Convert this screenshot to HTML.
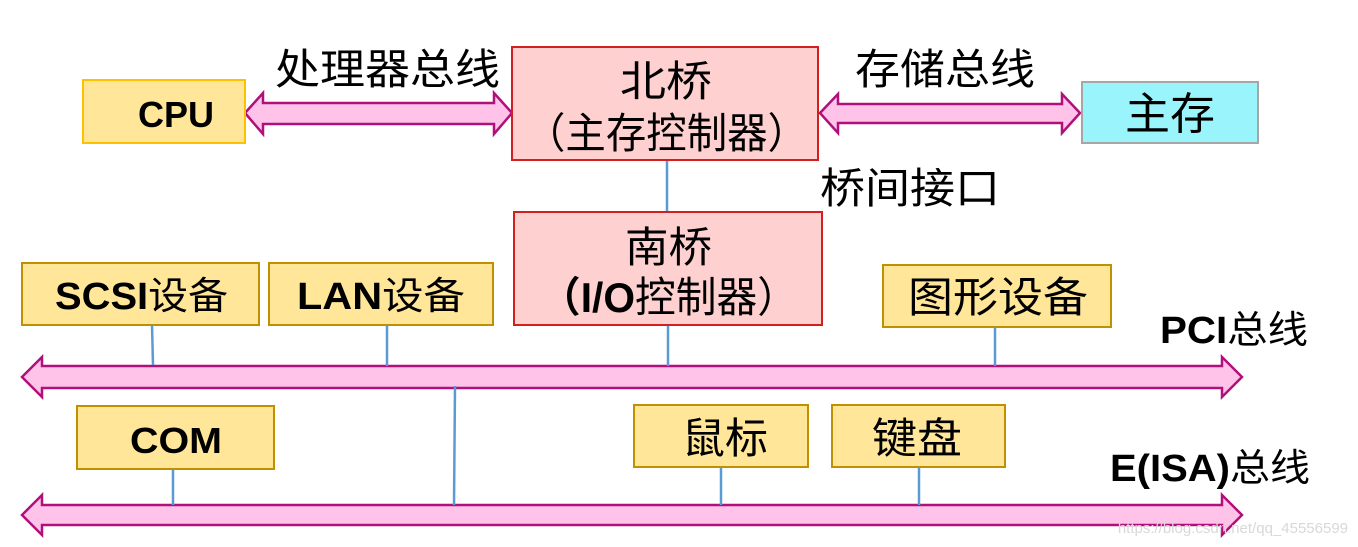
<!DOCTYPE html>
<html><head><meta charset="utf-8"><style>
html,body{margin:0;padding:0;background:#fff;}
svg{display:block;}
text{font-family:"Liberation Sans","Noto Sans CJK SC",sans-serif;fill:#000;}
.b{font-family:"Liberation Sans","Noto Sans CJK SC",sans-serif;font-weight:bold;}
</style></head><body>
<svg width="1358" height="547" viewBox="0 0 1358 547" xmlns="http://www.w3.org/2000/svg">
<g fill="#ffc3ea" stroke="#b0107a" stroke-width="2.5">
<polygon points="245,113 263,93 263,103 494,103 494,93 512,113 494,134 494,124 263,124 263,134"/>
<polygon points="820,113 838,94 838,104 1062,104 1062,94 1080,113 1062,133 1062,123 838,123 838,133"/>
<polygon points="22,377 42,357 42,366 1222,366 1222,357 1242,377 1222,397 1222,388 42,388 42,397"/>
<polygon points="22,515 42,495 42,505 1222,505 1222,495 1242,515 1222,535 1222,525 42,525 42,535"/>
</g>
<g stroke="#5b9bd5" stroke-width="2.5">
<line x1="667" y1="160" x2="667" y2="212"/>
<line x1="152" y1="325" x2="153" y2="365"/>
<line x1="387" y1="325" x2="387" y2="366"/>
<line x1="668" y1="325" x2="668" y2="366"/>
<line x1="995" y1="327" x2="995" y2="366"/>
<line x1="455" y1="386" x2="454" y2="505"/>
<line x1="173" y1="469" x2="173" y2="505"/>
<line x1="721" y1="467" x2="721" y2="505"/>
<line x1="919" y1="467" x2="919" y2="505"/>
</g>
<rect x="83" y="80" width="162" height="63" fill="#ffe699" stroke="#ffc000" stroke-width="2"/>
<rect x="512" y="47" width="306" height="113" fill="#ffd0d0" stroke="#d02020" stroke-width="2"/>
<rect x="1082" y="82" width="176" height="61" fill="#99f5fb" stroke="#a6a6a6" stroke-width="2"/>
<rect x="514" y="212" width="308" height="113" fill="#ffd0d0" stroke="#d02020" stroke-width="2"/>
<g fill="#ffe699" stroke="#c09000" stroke-width="2">
<rect x="22" y="263" width="237" height="62"/>
<rect x="269" y="263" width="224" height="62"/>
<rect x="883" y="265" width="228" height="62"/>
<rect x="77" y="406" width="197" height="63"/>
<rect x="634" y="405" width="174" height="62"/>
<rect x="832" y="405" width="173" height="62"/>
</g>
<text x="138" y="127" font-size="36" class="b" textLength="76" lengthAdjust="spacingAndGlyphs">CPU</text>
<text x="275" y="84" font-size="42" textLength="225" lengthAdjust="spacingAndGlyphs">处理器总线</text>
<text x="620" y="96" font-size="42" textLength="92" lengthAdjust="spacingAndGlyphs">北桥</text>
<text x="525" y="148" font-size="42" textLength="283" lengthAdjust="spacingAndGlyphs">（主存控制器）</text>
<text x="855" y="84" font-size="42" textLength="180" lengthAdjust="spacingAndGlyphs">存储总线</text>
<text x="1125" y="129" font-size="44" textLength="90" lengthAdjust="spacingAndGlyphs">主存</text>
<text x="820" y="203" font-size="42" textLength="180" lengthAdjust="spacingAndGlyphs">桥间接口</text>
<text x="625" y="262" font-size="42" textLength="87" lengthAdjust="spacingAndGlyphs">南桥</text>
<text x="540" y="312" font-size="42" textLength="258" lengthAdjust="spacingAndGlyphs"><tspan class="b">（I/O</tspan>控制器）</text>
<text x="55" y="309" font-size="38" textLength="173" lengthAdjust="spacingAndGlyphs"><tspan class="b">SCSI</tspan>设备</text>
<text x="297" y="309" font-size="38" textLength="168" lengthAdjust="spacingAndGlyphs"><tspan class="b">LAN</tspan>设备</text>
<text x="908" y="312" font-size="42" textLength="180" lengthAdjust="spacingAndGlyphs">图形设备</text>
<text x="1160" y="343" font-size="38" textLength="148" lengthAdjust="spacingAndGlyphs"><tspan class="b">PCI</tspan>总线</text>
<text x="130" y="453" font-size="36" class="b" textLength="92" lengthAdjust="spacingAndGlyphs">COM</text>
<text x="682" y="453" font-size="42" textLength="86" lengthAdjust="spacingAndGlyphs">鼠标</text>
<text x="872" y="453" font-size="42" textLength="90" lengthAdjust="spacingAndGlyphs">键盘</text>
<text x="1110" y="481" font-size="38" textLength="200" lengthAdjust="spacingAndGlyphs"><tspan class="b">E(ISA)</tspan>总线</text>
<text x="1348" y="533" font-size="15" text-anchor="end" style="fill:#d8d8d8">https://blog.csdn.net/qq_45556599</text>
</svg>
</body></html>
